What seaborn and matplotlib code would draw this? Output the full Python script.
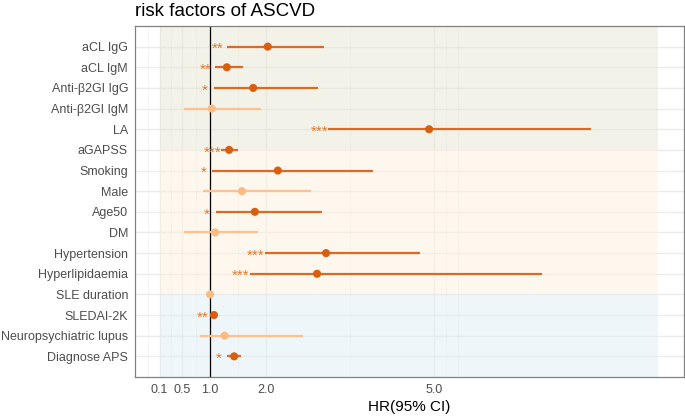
import matplotlib
matplotlib.use('Agg')
import matplotlib.pyplot as plt
import seaborn as sns
import pandas as pd
import numpy as np

# values
factors = ['aCL IgG', 'aCL IgM', 'Anti-β2GI IgG', 'Anti-β2GI IgM', 'LA', 'aGAPSS',
           'Smoking', 'Male', 'Age50', 'DM', 'Hypertension', 'Hyperlipidaemia',
           'SLE duration', 'SLEDAI-2K', 'Neuropsychiatric lupus', 'Diagnose APS']
hr = [2.03, 1.30, 1.77, 1.03, 4.91, 1.34, 2.21, 1.57, 1.80, 1.09, 3.07, 2.91,
      1.00, 1.07, 1.26, 1.43]
ci_low = [1.30, 1.09, 1.07, 0.54, 3.11, 1.20, 1.04, 0.875, 1.10, 0.54, 1.98, 1.71,
          0.97, 1.03, 0.82, 1.31]
ci_high = [3.03, 1.59, 2.93, 1.91, 7.80, 1.50, 3.91, 2.80, 2.99, 1.85, 4.75, 6.93,
           1.03, 1.11, 2.66, 1.56]
stars = ['**', '**', '*', '', '***', '***', '*', '', '*', '', '***', '***',
         '', '**', '', '*']

# background groups (row units, Diagnose APS = 1)
band_edges = [(11, 17), (4, 11), (0, 4)]
band_colors = ['#E6E6D4', '#FCF0DE', '#E0EEF5']

x_ticks = [0.1, 0.5, 1.0, 2.0, 5.0]
x_minor = [-0.1, 0.3, 0.75, 1.5, 3.5, 5.22, 5.42]

df = pd.DataFrame({'factor': factors, 'hr': hr, 'low': ci_low, 'high': ci_high,
                   'stars': stars})
df['pos'] = np.arange(len(df), 0, -1)
df['sig'] = np.where(df['stars'] != '', 'sig', 'ns')

sns.set_style('white')
plt.rcParams['font.family'] = ['Liberation Sans', 'DejaVu Sans']

dark = '#D95F0E'
light = '#FDBB84'
line_cols = {'sig': '#DD6A22', 'ns': '#FDC08E'}

fig = plt.figure(figsize=(6.85, 4.17), dpi=100)
ax = fig.add_axes([135 / 685, 40 / 417, 549 / 685, 351 / 417])

for (lo, hi), c in zip(band_edges, band_colors):
    ax.fill_betweenx([lo, hi], 0.1, 9.0, color=c, alpha=0.5, lw=0, zorder=1)

ax.hlines(df['pos'], df['low'], df['high'], colors=[line_cols[s] for s in df['sig']],
          lw=1.6, zorder=3)
sns.scatterplot(data=df, x='hr', y='pos', hue='sig', palette={'sig': dark, 'ns': light},
                s=34, edgecolor='none', legend=False, ax=ax, zorder=4)

for _, r in df.iterrows():
    if r['stars']:
        ax.text(r['low'] - 0.16, r['pos'] - 0.12, r['stars'], ha='center', va='center',
                fontsize=11, color='#E07A30', zorder=5)

ax.axvline(1.0, color='black', lw=0.9, zorder=2.5)

ax.set_xlim(-0.34, 9.46)
ax.set_ylim(0, 17)
ax.set_xticks(x_ticks)
ax.set_xticklabels([f'{v:.1f}' for v in x_ticks])
ax.set_xticks(x_minor, minor=True)
ax.set_yticks(df['pos'])
ax.set_yticklabels(df['factor'])

ax.set_axisbelow(True)
ax.grid(True, which='major', color='#EBEBEB', lw=1.0, zorder=0)
ax.grid(True, which='minor', axis='x', color='#F2F2F2', lw=0.6, zorder=0)

ax.tick_params(axis='both', which='major', direction='out', length=3, width=0.8,
               color='#333333', labelcolor='#4D4D4D', labelsize=9, pad=2)
ax.tick_params(axis='x', which='minor', length=0)
for sp in ax.spines.values():
    sp.set_color('#808080')
    sp.set_linewidth(0.9)

ax.set_xlabel('HR(95% CI)', fontsize=11, color='black', labelpad=3)
ax.set_ylabel('')
fig.text(135 / 685, 1 - 16 / 417, 'risk factors of ASCVD', fontsize=13.5,
         ha='left', va='baseline', color='black')

fig.savefig('out.png', dpi=100)
